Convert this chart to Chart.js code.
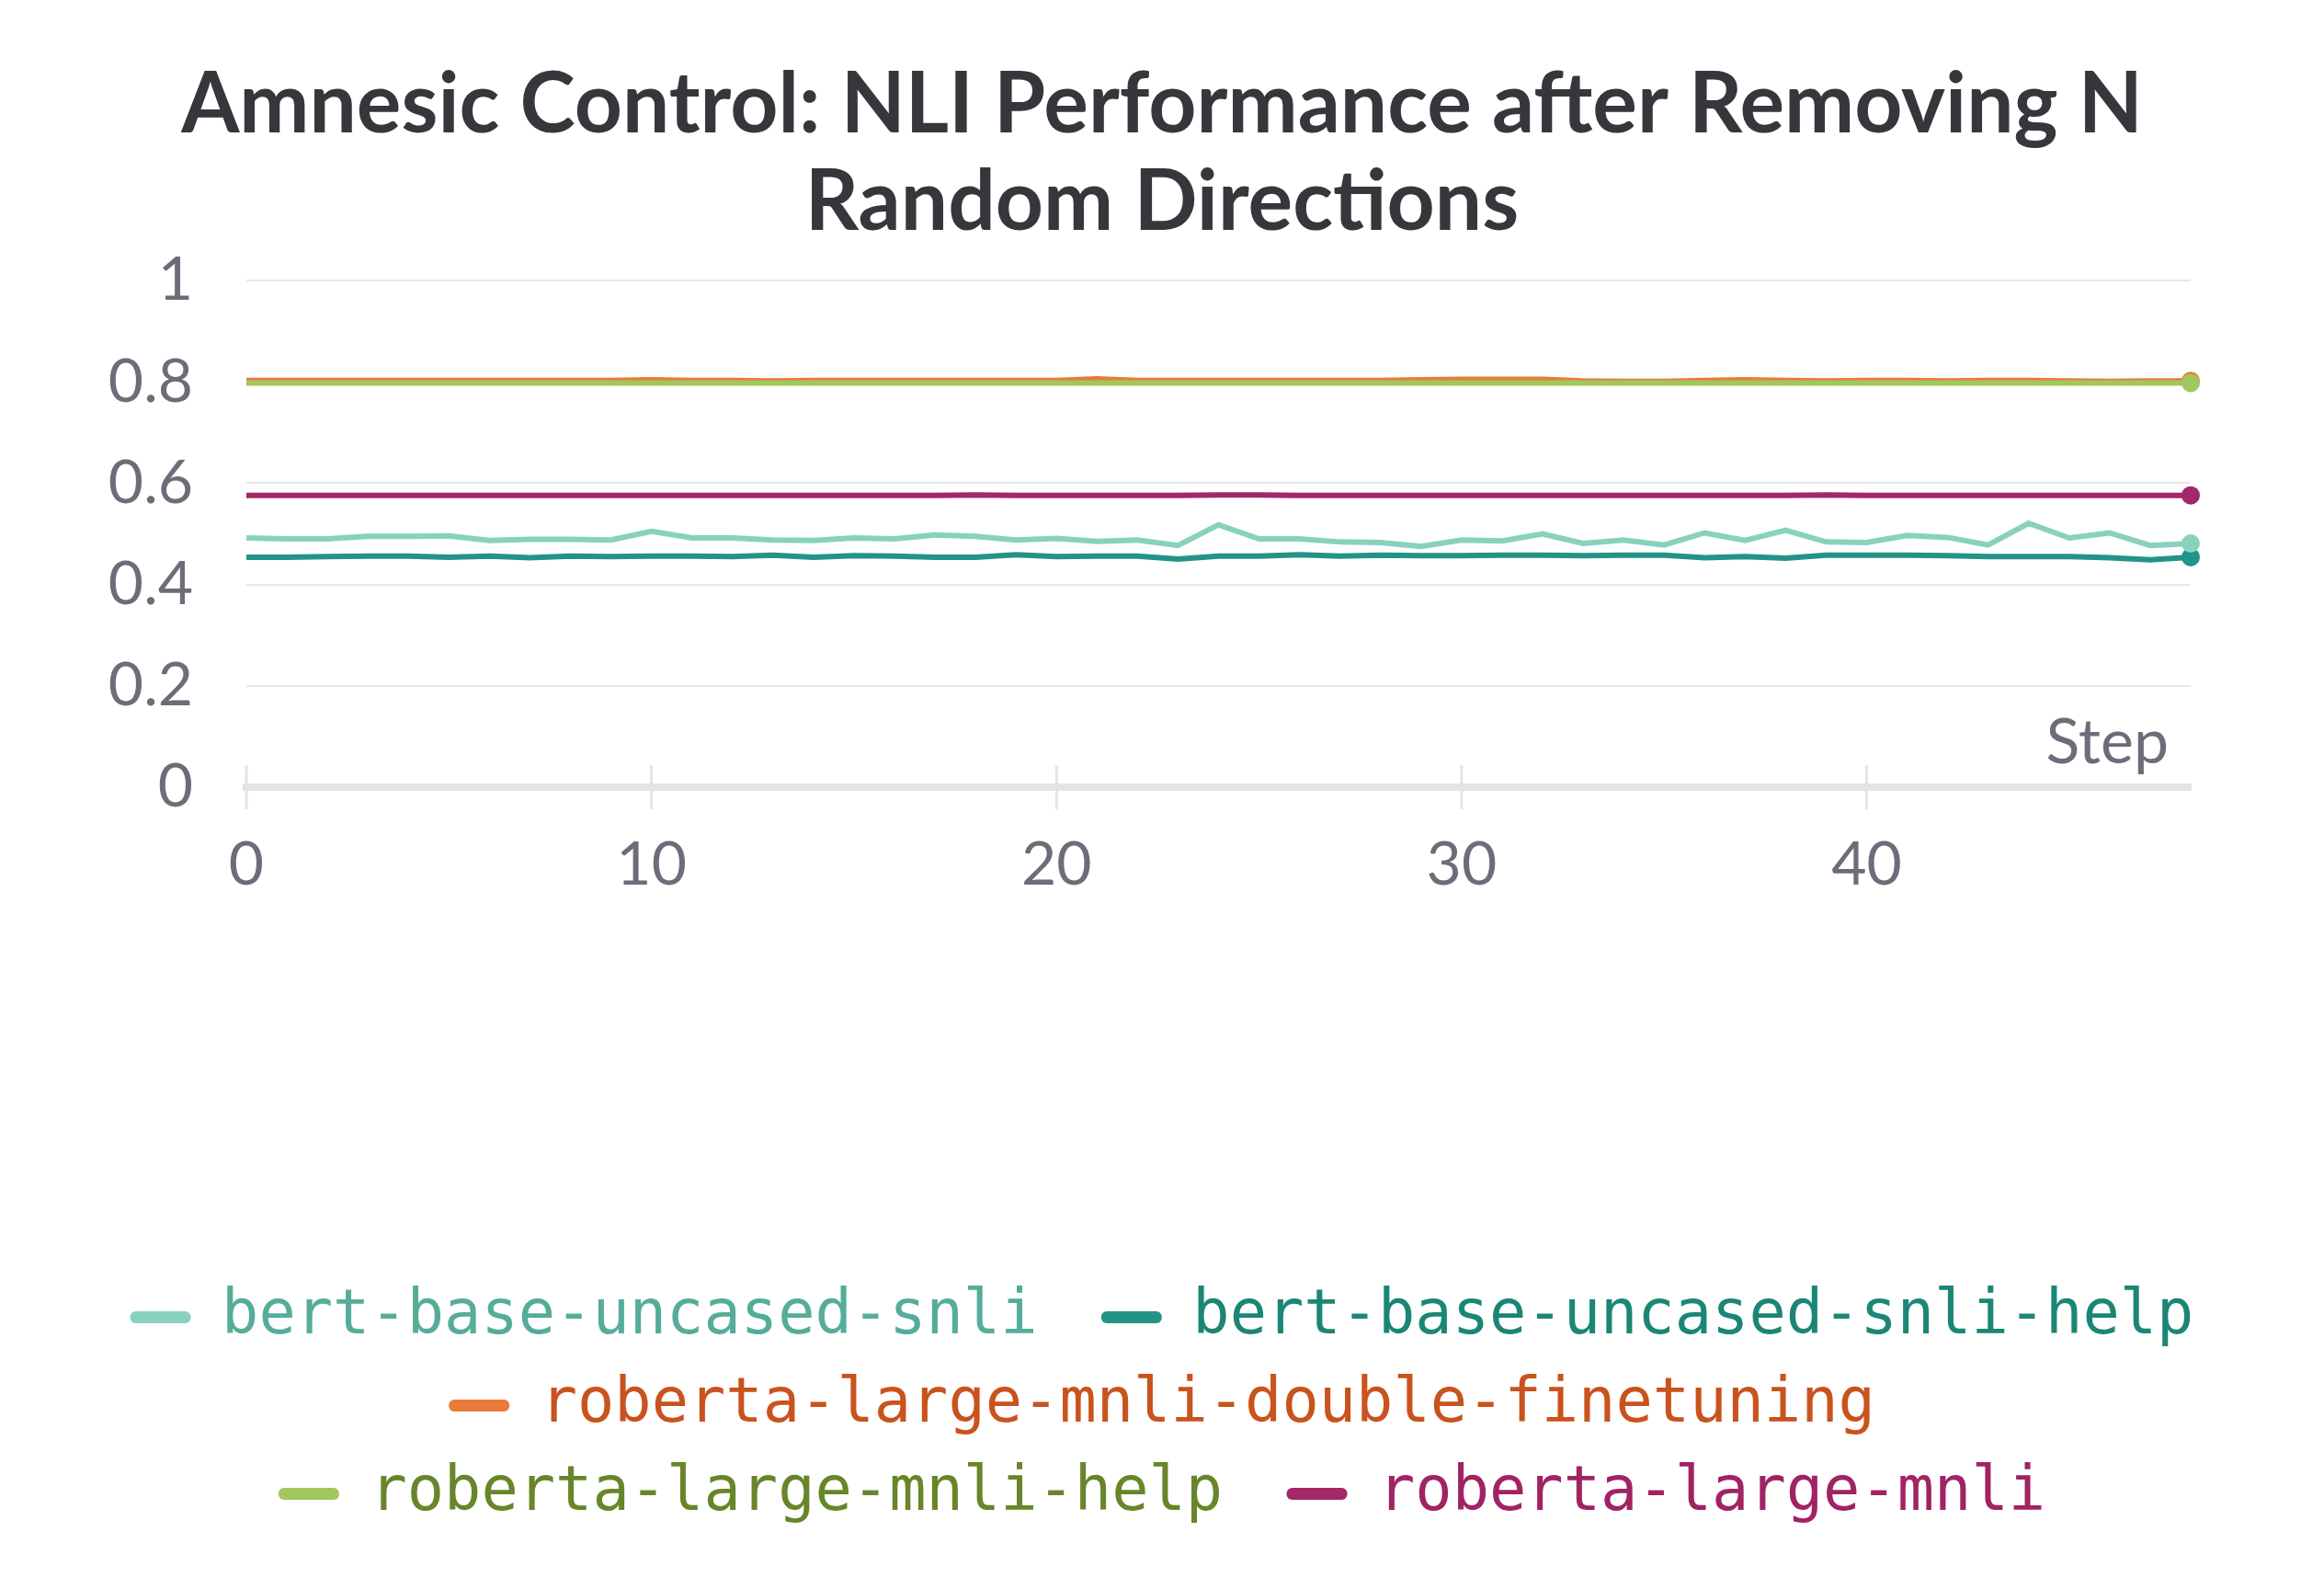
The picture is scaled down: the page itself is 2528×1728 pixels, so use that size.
<!DOCTYPE html>
<html>
<head>
<meta charset="utf-8">
<script src="https://cdn.jsdelivr.net/npm/chart.js@4.4.1/dist/chart.umd.min.js"></script>
<style>
  html, body { margin: 0; padding: 0; background: #fff; }
  #wrap { width: 2528px; height: 1728px; position: relative; }
</style>
</head>
<body>
<div id="wrap"><canvas id="nliChart"></canvas></div>
<script>
// steps on the x axis
const steps = [0,1,2,3,4,5,6,7,8,9,10,11,12,13,14,15,16,17,18,19,20,21,22,23,24,
  25,26,27,28,29,30,31,32,33,34,35,36,37,38,39,40,41,42,43,44,45,46,47,48]

const seriesNames = [
  'bert-base-uncased-snli',
  'bert-base-uncased-snli-help',
  'roberta-large-mnli-double-finetuning',
  'roberta-large-mnli-help',
  'roberta-large-mnli'
]

const bertSnli = [0.492,0.490,0.490,0.495,0.495,0.496,0.487,0.489,0.489,0.488,
  0.505,0.492,0.492,0.488,0.487,0.492,0.490,0.498,0.495,0.488,
  0.491,0.485,0.488,0.477,0.518,0.490,0.490,0.484,0.483,0.475,
  0.488,0.486,0.500,0.481,0.488,0.478,0.502,0.487,0.507,0.484,
  0.483,0.497,0.493,0.478,0.521,0.492,0.502,0.477,0.481]

const bertSnliHelp = [0.454,0.454,0.455,0.456,0.456,0.454,0.456,0.453,0.456,0.455,
  0.456,0.456,0.455,0.458,0.454,0.457,0.456,0.454,0.454,0.459,
  0.455,0.456,0.456,0.450,0.456,0.456,0.459,0.456,0.458,0.457,
  0.457,0.458,0.458,0.457,0.458,0.458,0.453,0.455,0.452,0.458,
  0.458,0.458,0.457,0.455,0.455,0.455,0.453,0.449,0.454]

const robertaDouble = [0.803,0.803,0.803,0.803,0.803,0.803,0.803,0.803,0.803,0.803,
  0.804,0.803,0.803,0.802,0.803,0.803,0.803,0.803,0.803,0.803,
  0.803,0.806,0.803,0.803,0.803,0.803,0.803,0.803,0.803,0.804,
  0.805,0.805,0.805,0.802,0.801,0.801,0.803,0.804,0.803,0.802,
  0.803,0.803,0.802,0.803,0.803,0.802,0.801,0.802,0.802]

const robertaHelp = [0.798,0.798,0.798,0.798,0.798,0.798,0.798,0.798,0.798,0.798,
  0.798,0.798,0.798,0.798,0.798,0.798,0.798,0.798,0.798,0.798,
  0.798,0.798,0.798,0.798,0.798,0.798,0.798,0.798,0.798,0.798,
  0.798,0.798,0.798,0.798,0.798,0.798,0.798,0.798,0.798,0.798,
  0.798,0.798,0.798,0.798,0.798,0.798,0.798,0.798,0.798]

const robertaMnli = [0.576,0.576,0.576,0.576,0.576,0.576,0.576,0.576,0.576,0.576,
  0.576,0.576,0.576,0.576,0.576,0.576,0.576,0.576,0.577,0.576,
  0.576,0.576,0.576,0.576,0.577,0.577,0.576,0.576,0.576,0.576,
  0.576,0.576,0.576,0.576,0.576,0.576,0.576,0.576,0.576,0.577,
  0.576,0.576,0.576,0.576,0.576,0.576,0.576,0.576,0.576]

const yTickLabels = ['0','0.2','0.4','0.6','0.8','1']

const lineColors = ['#88d1bf','#229487','#e87b3a','#a1c75d','#a3286a']
const textColors = ['#55ad99','#1b8676','#c9531d','#67862a','#a02464']
// green line sits on top of the orange one
const drawOrder = [0, 1, 3, 2, 4]

const seriesValues = [bertSnli, bertSnliHelp, robertaDouble, robertaHelp, robertaMnli]
const lastIdx = steps.length - 1

const datasets = seriesNames.map((name, i) => ({
  label: name,
  data: seriesValues[i],
  borderColor: lineColors[i],
  backgroundColor: lineColors[i],
  borderWidth: 6,
  tension: 0,
  order: drawOrder[i],
  clip: false,
  pointRadius: (ctx) => ctx.dataIndex === lastIdx ? 10 : 0,
  pointHoverRadius: 0,
  pointBorderWidth: 0,
  pointBackgroundColor: lineColors[i]
}))

const tickGray = '#6c6d78'

// x tick marks that cross the axis line, plus the "Step" label inside the plot
const axisExtras = {
  id: 'axisExtras',
  afterDatasetsDraw(chart) {
    const { ctx, chartArea, scales } = chart
    const xs = scales.x
    ctx.save()
    ctx.strokeStyle = '#e4e4e7'
    ctx.lineWidth = 3
    xs.ticks.forEach(t => {
      const px = xs.getPixelForValue(t.value)
      ctx.beginPath()
      ctx.moveTo(px, chartArea.bottom - 24)
      ctx.lineTo(px, chartArea.bottom + 24)
      ctx.stroke()
    })
    ctx.fillStyle = tickGray
    ctx.font = '68px Lato'
    ctx.textAlign = 'right'
    ctx.textBaseline = 'alphabetic'
    ctx.fillText('Step', chartArea.right - 24, chartArea.bottom - 26)
    ctx.restore()
  }
}

new Chart(document.getElementById('nliChart'), {
  type: 'line',
  data: { labels: steps, datasets },
  options: {
    responsive: true,
    maintainAspectRatio: false,
    animation: false,
    layout: { padding: { top: 0, left: 0, right: 0, bottom: 60 } },
    plugins: {
      tooltip: { enabled: false },
      title: {
        display: true,
        text: ['Amnesic Control: NLI Performance after Removing N', 'Random Directions'],
        color: '#35373c',
        font: { family: 'Lato', size: 91, weight: 'bold', lineHeight: 1.16 },
        padding: { top: 62, bottom: 32 }
      },
      legend: {
        position: 'bottom',
        labels: {
          font: { family: 'DejaVu Sans Mono', size: 67 },
          boxWidth: 66,
          boxHeight: 13,
          padding: 29,
          useBorderRadius: true,
          borderRadius: 6,
          generateLabels: (chart) => chart.data.datasets.map((ds, i) => ({
            // trailing space widens the gap to the next item in the row
            text: (i === 0 || i === 3) ? ds.label + ' ' : ds.label,
            fillStyle: lineColors[i],
            strokeStyle: lineColors[i],
            lineWidth: 0,
            fontColor: textColors[i],
            borderRadius: 6,
            hidden: false,
            datasetIndex: i
          }))
        }
      }
    },
    scales: {
      x: {
        type: 'linear',
        min: 0,
        max: 48,
        grid: { display: false, drawTicks: false },
        border: { display: true, color: '#e4e4e7', width: 8 },
        ticks: {
          stepSize: 10,
          padding: 45,
          color: tickGray,
          font: { family: 'Lato', size: 66 },
          maxRotation: 0
        },
        afterBuildTicks: (scale) => {
          scale.ticks = scale.ticks.filter(t => t.value % 10 === 0)
        },
        afterFit: (scale) => { scale.height = 514 }
      },
      y: {
        min: 0,
        max: 1,
        grid: { color: '#e8e8e8', lineWidth: 2, drawTicks: false },
        border: { display: false },
        ticks: {
          stepSize: 0.2,
          padding: 58,
          color: tickGray,
          font: { family: 'Lato', size: 66 },
          callback: (v, idx) => yTickLabels[idx]
        },
        afterFit: (scale) => { scale.width = 268 }
      },
      // empty right-hand gutter so the title and legend stay centred on the page
      yRight: {
        position: 'right',
        display: true,
        grid: { display: false, drawTicks: false },
        border: { display: false },
        ticks: { display: false },
        afterFit: (scale) => { scale.width = 145 }
      }
    }
  },
  plugins: [axisExtras]
})
</script>
</body>
</html>
